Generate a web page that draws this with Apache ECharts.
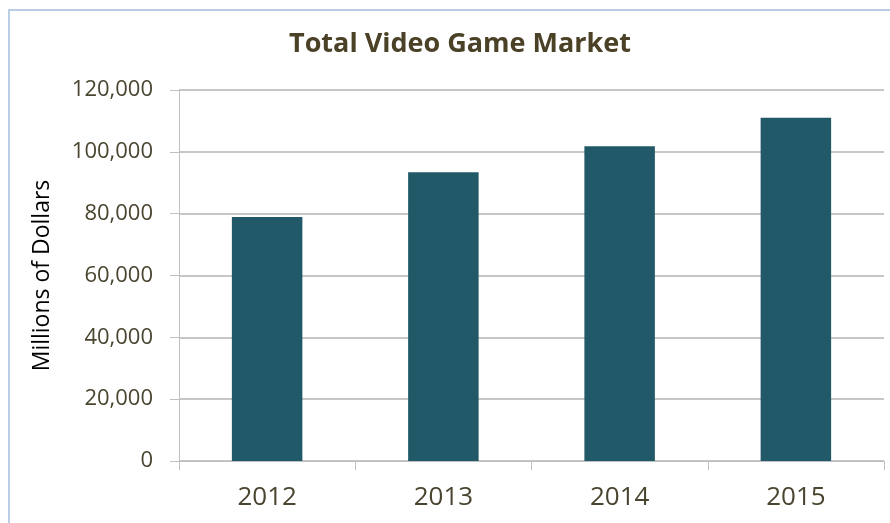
<!DOCTYPE html>
<html>
<head>
<meta charset="utf-8">
<script src="https://cdn.jsdelivr.net/npm/echarts@6/dist/echarts.min.js"></script>
<style>
  html, body { margin: 0; padding: 0; background: #ffffff; }
  #chart { width: 890px; height: 523px; }
</style>
</head>
<body>
<div id="chart"></div>
<script>
// Annual totals for the video game market, in millions of dollars
const years = ['2012', '2013', '2014', '2015'];
const marketTotals = [78900, 93400, 101800, 111000];
const yTicks = [0, 20000, 40000, 60000, 80000, 100000, 120000];

const textColor = '#4a4530';
const gridColor = '#c6c6c6';
const fontFamily = '"Open Sans", "Noto Sans", sans-serif';

const chart = echarts.init(document.getElementById('chart'), null, { renderer: 'canvas' });

chart.setOption({
  backgroundColor: '#ffffff',
  animation: false,
  title: {
    text: 'Total Video Game Market',
    left: 455,
    top: 26,
    textAlign: 'center',
    textStyle: {
      color: '#4a4126',
      fontFamily: fontFamily,
      fontWeight: 'bold',
      fontSize: 27
    }
  },
  graphic: [{
    type: 'rect',
    shape: { x: 9, y: 10, width: 900, height: 600 },
    style: { fill: 'none', stroke: '#b9cde5', lineWidth: 2 },
    silent: true,
    z: -1
  }],
  grid: { left: 179, right: 6, top: 90, bottom: 62, containLabel: false },
  xAxis: {
    type: 'category',
    data: years,
    axisLine: { show: true, lineStyle: { color: '#bfbfbf', width: 1 } },
    axisTick: { show: true, length: 9, lineStyle: { color: '#bfbfbf' } },
    axisLabel: { color: textColor, fontFamily: fontFamily, fontSize: 26, margin: 24 }
  },
  yAxis: {
    type: 'value',
    min: yTicks[0],
    max: yTicks[yTicks.length - 1],
    interval: yTicks[1] - yTicks[0],
    name: 'Millions of Dollars',
    nameLocation: 'middle',
    nameGap: 125,
    nameTextStyle: { color: '#000000', fontFamily: fontFamily, fontSize: 23 },
    axisLine: { show: true, lineStyle: { color: '#bfbfbf', width: 1 } },
    axisTick: { show: true, length: 9, lineStyle: { color: '#bfbfbf' } },
    splitLine: { show: true, lineStyle: { color: gridColor, width: 2 } },
    axisLabel: {
      color: textColor,
      fontFamily: fontFamily,
      fontSize: 22,
      margin: 26,
      formatter: v => v.toLocaleString('en-US')
    }
  },
  series: [{
    type: 'bar',
    data: marketTotals,
    barWidth: '40%',
    itemStyle: { color: '#215968' }
  }]
});
</script>
</body>
</html>
